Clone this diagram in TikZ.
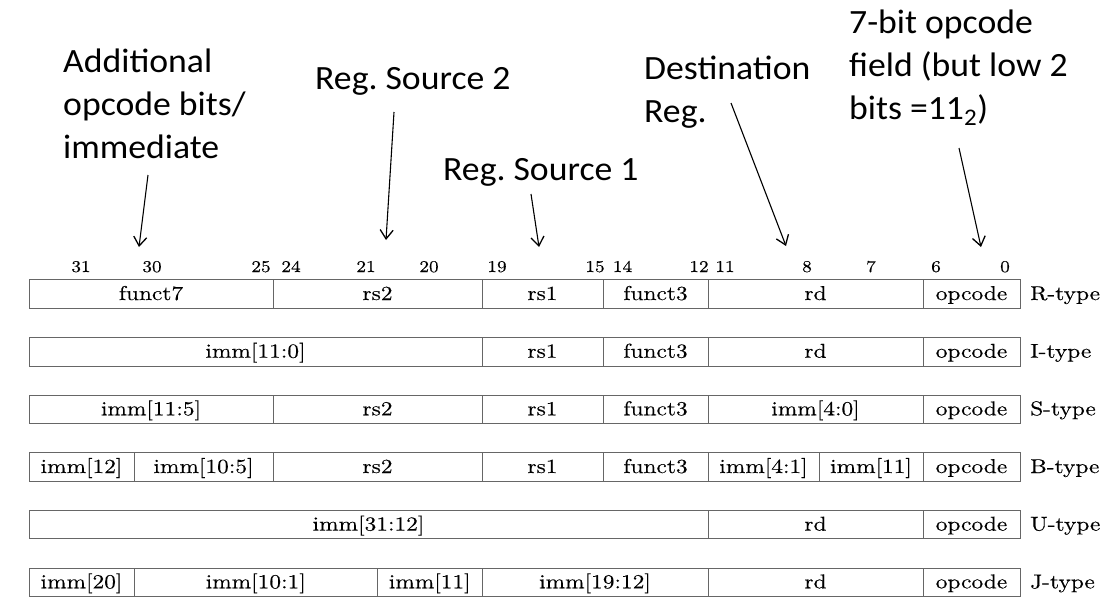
\documentclass[tikz,border=0pt]{standalone}
\usepackage{fontspec}
\usetikzlibrary{arrows.meta}
\newfontfamily\tabfont{lmroman10-regular.otf}[FakeStretch=1.17,FakeBold=0.3]
\newfontfamily\annfont{Carlito}[FakeStretch=1.05]
\newcommand{\fld}[5]{\node[fld, minimum width={(#3-#2)*1pt}] (#1) at ({(#2+#3)/2},#4) {#5};}
\begin{document}
\begin{tikzpicture}[x=1pt,y=-1pt,
  fld/.style={draw=black!60, line width=0.9pt, minimum height=28.5pt, inner sep=0pt,
    font=\tabfont\fontsize{20}{20}\selectfont, text height=12pt, text depth=0pt},
  bitno/.style={font=\tabfont\fontsize{16.5}{17}\selectfont, anchor=base, inner sep=0pt},
  rowlbl/.style={font=\tabfont\fontsize{20}{20}\selectfont, anchor=base west, inner sep=0pt},
  ann/.style={font=\annfont\fontsize{34}{43}\selectfont, align=left, anchor=base west, inner sep=0pt},
  ptr/.style={-{Straight Barb[length=9pt,width=13pt,line width=1.3pt]}, line width=1.1pt}]
\useasboundingbox (0,0) rectangle (1115,610);

% annotations (base anchor = baseline of last line)
\node[ann] (a1) at (63,158) {Additional\\opcode bits/\\immediate};
\node[ann] (a2) at (315,89) {Reg.\ Source 2};
\node[ann] (a3) at (443,180) {Reg.\ Source 1};
\node[ann] (a4) at (644,122) {Destination\\Reg.};
\node[ann] (a5) at (849,119) {7-bit opcode\\field (but low 2\\bits =11\textsubscript{2})};

\coordinate (s1) at (148,175); \coordinate (e1) at (139,247);
\coordinate (s2) at (394,112); \coordinate (e2) at (386,240);
\coordinate (s3) at (531,194); \coordinate (e3) at (539,247);
\coordinate (s4) at (731,103); \coordinate (e4) at (786,246);
\coordinate (s5) at (959,148); \coordinate (e5) at (981,247);
\draw[ptr] (s1) -- (e1);
\draw[ptr] (s2) -- (e2);
\draw[ptr] (s3) -- (e3);
\draw[ptr] (s4) -- (e4);
\draw[ptr] (s5) -- (e5);

% bit numbers
\foreach \n/\x in {31/81,30/152,25/261,24/291,21/366,20/429,19/497,15/595,14/622.5,12/699,11/725,8/807,7/871,6/936,0/1005}
  \node[bitno] (b\n) at (\x,272) {\n};

% R-type
\fld{r1}{29}{273}{294}{funct7}
\fld{r2}{273}{482}{294}{rs2}
\fld{r3}{482}{603}{294}{rs1}
\fld{r4}{603}{708}{294}{funct3}
\fld{r5}{708}{923}{294}{rd}
\fld{r6}{923}{1020}{294}{opcode}
\node[rowlbl] (lr) at (1030,300) {R-type};
% I-type
\fld{i1}{29}{482}{351.7}{imm[11:0]}
\fld{i3}{482}{603}{351.7}{rs1}
\fld{i4}{603}{708}{351.7}{funct3}
\fld{i5}{708}{923}{351.7}{rd}
\fld{i6}{923}{1020}{351.7}{opcode}
\node[rowlbl] (li) at (1030,357.7) {I-type};
% S-type
\fld{s1f}{29}{273}{409.3}{imm[11:5]}
\fld{s2f}{273}{482}{409.3}{rs2}
\fld{s3f}{482}{603}{409.3}{rs1}
\fld{s4f}{603}{708}{409.3}{funct3}
\fld{s5f}{708}{923}{409.3}{imm[4:0]}
\fld{s6f}{923}{1020}{409.3}{opcode}
\node[rowlbl] (ls) at (1030,415.3) {S-type};
% B-type
\fld{bb1}{29}{134}{467}{imm[12]}
\fld{bb2}{134}{273}{467}{imm[10:5]}
\fld{bb3}{273}{482}{467}{rs2}
\fld{bb4}{482}{603}{467}{rs1}
\fld{bb5}{603}{708}{467}{funct3}
\fld{bb6}{708}{819}{467}{imm[4:1]}
\fld{bb7}{819}{923}{467}{imm[11]}
\fld{bb8}{923}{1020}{467}{opcode}
\node[rowlbl] (lb) at (1030,473) {B-type};
% U-type
\fld{u1}{29}{708}{524.6}{imm[31:12]}
\fld{u2}{708}{923}{524.6}{rd}
\fld{u3}{923}{1020}{524.6}{opcode}
\node[rowlbl] (lu) at (1030,530.6) {U-type};
% J-type
\fld{j1}{29}{134}{582.3}{imm[20]}
\fld{j2}{134}{377.5}{582.3}{imm[10:1]}
\fld{j3}{377.5}{482}{582.3}{imm[11]}
\fld{j4}{482}{708}{582.3}{imm[19:12]}
\fld{j5}{708}{923}{582.3}{rd}
\fld{j6}{923}{1020}{582.3}{opcode}
\node[rowlbl] (lj) at (1030,588.3) {J-type};
\end{tikzpicture}
\end{document}
